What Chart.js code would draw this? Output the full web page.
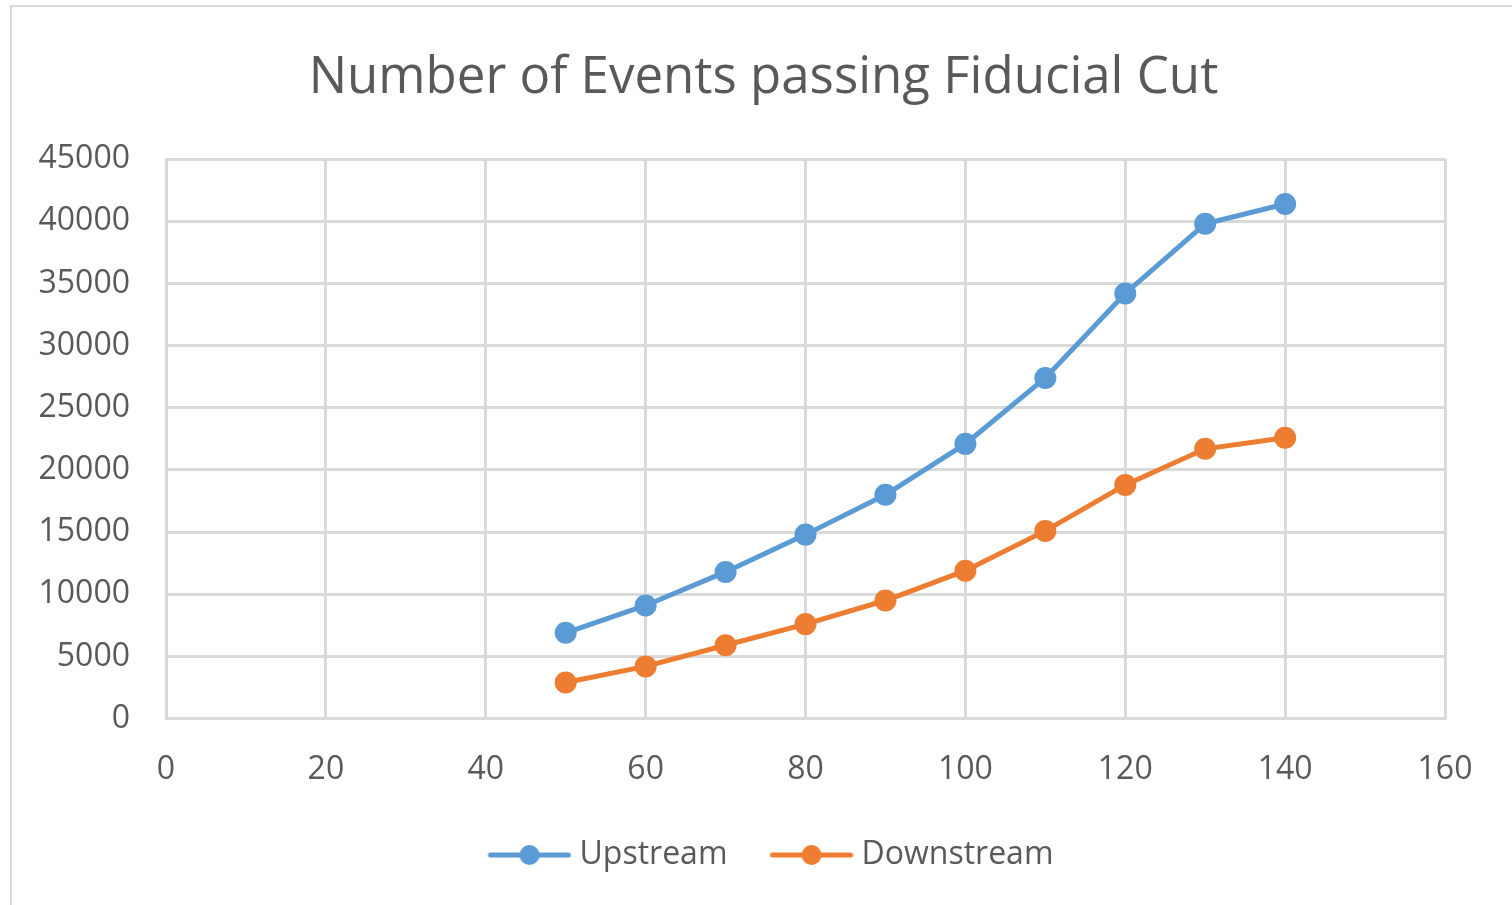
<!DOCTYPE html>
<html>
<head>
<meta charset="utf-8">
<script src="https://cdn.jsdelivr.net/npm/chart.js@4.4.1/dist/chart.umd.min.js"></script>
<style>
  html, body { margin: 0; padding: 0; background: #fff; overflow: hidden; }
  #frame { position: absolute; left: 10px; top: 5px; width: 1600px; height: 1000px; border: 2px solid #d9d9d9; }
  #wrap { position: absolute; left: 0; top: 0; width: 1512px; height: 905px; }
</style>
</head>
<body>
<div id="frame"></div>
<div id="wrap"><canvas id="events_chart" width="1512" height="905"></canvas></div>
<script>
// energy / cut values on the x axis
const xValues = [50, 60, 70, 80, 90, 100, 110, 120, 130, 140];
const upstream = [6900, 9100, 11800, 14800, 18000, 22100, 27400, 34200, 39800, 41400];
const downstream = [2900, 4200, 5900, 7600, 9500, 11900, 15100, 18800, 21700, 22600];
const seriesNames = ['Upstream', 'Downstream'];
const seriesColors = ['#5b9bd5', '#ed7d31'];

const textColor = '#595959';
const gridColor = '#d9d9d9';
const fontFamily = "'Open Sans', 'Noto Sans', sans-serif";

function toPoints(ys) {
   return xValues.map(function (x, i) { return {x: x, y: ys[i]}; });
}

// line + dot picture used as the legend marker (blank room on the left for spacing)
function legendMarker(color) {
   const c = document.createElement('canvas');
   c.width = 116;
   c.height = 24;
   const ctx = c.getContext('2d');
   ctx.strokeStyle = color;
   ctx.lineWidth = 5;
   ctx.lineCap = 'round';
   ctx.beginPath();
   ctx.moveTo(35, 12);
   ctx.lineTo(113, 12);
   ctx.stroke();
   ctx.fillStyle = color;
   ctx.beginPath();
   ctx.arc(74, 12, 10, 0, Math.PI * 2);
   ctx.fill();
   return c;
}
const markers = seriesColors.map(legendMarker);

// Excel centres title and legend on the whole frame, not on the plot
const shiftBoxes = {
   id: 'shiftBoxes',
   afterLayout: function (chart) {
      chart.titleBlock.left += 41;
      chart.titleBlock.right += 41;
      chart.legend.left += 36;
      chart.legend.right += 36;
   }
};

function makeDataset(i, ys) {
   return {
      label: seriesNames[i],
      data: toPoints(ys),
      showLine: true,
      borderColor: seriesColors[i],
      backgroundColor: seriesColors[i],
      borderWidth: 5,
      pointRadius: 11,
      pointHoverRadius: 11,
      pointBorderWidth: 0,
      tension: 0
   };
}

const config = {
   type: 'scatter',
   data: {
      datasets: [makeDataset(0, upstream), makeDataset(1, downstream)]
   },
   options: {
      responsive: false,
      animation: false,
      layout: { padding: { left: 0, right: 67, top: 48, bottom: 24 } },
      plugins: {
         title: {
            display: true,
            text: 'Number of Events passing Fiducial Cut',
            color: textColor,
            font: { family: fontFamily, size: 51, weight: 'normal' },
            padding: { top: 0, bottom: 50 }
         },
         legend: {
            position: 'bottom',
            labels: {
               usePointStyle: true,
               pointStyleWidth: 100,
               padding: 18,
               color: textColor,
               font: { family: fontFamily, size: 32 },
               generateLabels: function (chart) {
                  const items = Chart.defaults.plugins.legend.labels.generateLabels(chart);
                  items.forEach(function (it, i) { it.pointStyle = markers[i]; });
                  return items;
               }
            }
         },
         tooltip: { enabled: false }
      },
      scales: {
         x: {
            type: 'linear',
            min: 0,
            max: 160,
            ticks: { stepSize: 20, color: textColor, padding: 32, font: { family: fontFamily, size: 32 } },
            grid: { color: gridColor, lineWidth: 3, drawTicks: false },
            border: { color: gridColor, width: 3 }
         },
         y: {
            min: 0,
            max: 45000,
            ticks: {
               stepSize: 5000,
               color: textColor,
               padding: 36,
               font: { family: fontFamily, size: 32 },
               callback: function (v) { return String(v); }
            },
            grid: { color: gridColor, lineWidth: 3, drawTicks: false },
            border: { color: gridColor, width: 3 },
            afterFit: function (scale) { scale.width = 166; }
         }
      }
   },
   plugins: [shiftBoxes]
};

new Chart(document.getElementById('events_chart').getContext('2d'), config);
</script>
</body>
</html>
